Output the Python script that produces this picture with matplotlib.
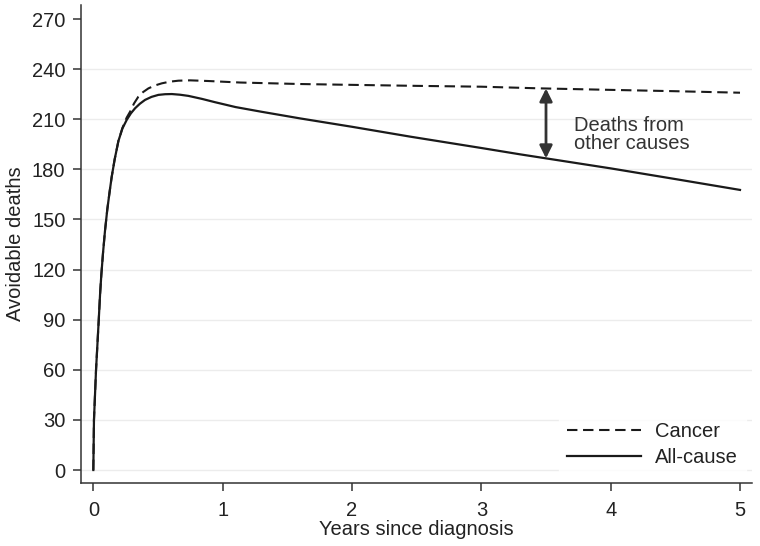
#!/usr/bin/env python3
"""Avoidable deaths by years since diagnosis: cancer vs all-cause."""

import numpy as np
import matplotlib
matplotlib.use("Agg")
import matplotlib.pyplot as plt


# values
allcause_years = [0, 0.005, 0.021, 0.042, 0.052, 0.062, 0.075, 0.09, 0.108, 0.125, 0.142,
                  0.165, 0.194, 0.225, 0.258, 0.29, 0.323, 0.36, 0.4, 0.45, 0.503, 0.555,
                  0.607, 0.67, 0.735, 0.84, 0.942, 1.1, 1.3, 1.6, 2.0, 2.45, 3.0, 3.3, 3.5,
                  4.0, 4.5, 5.0]
allcause_deaths = [0, 30, 60, 90, 105, 117, 130, 143, 156, 166, 175.5,
                   186, 197, 204.5, 209.6, 213.5, 216.6, 219.3, 221.6, 223.4, 224.6, 225.0,
                   225.1, 224.7, 224.0, 222.2, 220.2, 217.3, 214.5, 210.5, 205.5, 199.6, 192.8, 189.0, 186.6,
                   180.6, 174.2, 167.7]

cancer_years = [0, 0.005, 0.021, 0.042, 0.052, 0.062, 0.075, 0.09, 0.108, 0.125, 0.142,
                0.165, 0.194, 0.225, 0.258, 0.284, 0.315, 0.348, 0.385, 0.426, 0.475, 0.529,
                0.59, 0.658, 0.75, 0.89, 1.135, 1.6, 2.0, 2.5, 3.0, 3.455, 4.0, 4.5, 5.0]
cancer_deaths = [0, 30, 60, 90, 105, 117, 130, 143, 156, 166, 175.5,
                 186, 197, 204.8, 211, 214.5, 219.5, 223.5, 226.3, 228.5, 230.2, 231.5,
                 232.5, 233.1, 233.3, 232.9, 232, 231.1, 230.6, 230, 229.5, 228.5, 227.6, 226.8, 225.9]

x_ticks = [0, 1, 2, 3, 4, 5]
y_ticks = [0, 30, 60, 90, 120, 150, 180, 210, 240, 270]
gap_year = 3.5

plt.rcParams["font.family"] = ["Liberation Sans", "DejaVu Sans"]
plt.rcParams["font.size"] = 14.5
INK = "#333333"
LINE = "#1a1a1a"

fig = plt.figure(figsize=(7.6, 5.46), dpi=100)
ax = fig.add_axes([0.1062, 0.1159, 0.989 - 0.1062, 0.9908 - 0.1159])

ax.plot(cancer_years, cancer_deaths, color=LINE, lw=1.5, dashes=(5, 2.7), label="Cancer")
ax.plot(allcause_years, allcause_deaths, color=LINE, lw=1.6, label="All-cause")

# double arrow between the two curves
top = np.interp(gap_year, cancer_years, cancer_deaths)
bottom = np.interp(gap_year, allcause_years, allcause_deaths)
ax.annotate("", xy=(gap_year, top), xytext=(gap_year, bottom),
            arrowprops=dict(arrowstyle="<|-|>", color=INK, lw=2.0,
                            mutation_scale=19, shrinkA=0, shrinkB=0))
ax.text(gap_year + 0.215, (top + bottom) / 2 - 6.5, "Deaths from\nother causes",
        ha="left", va="center", color=INK, linespacing=0.95)

ax.set_xlim(-0.0975, 5.09)
ax.set_ylim(-7.6, 278.4)
ax.set_xticks(x_ticks)
ax.set_yticks(y_ticks)

ax.grid(True, axis="y", color="#ececec", lw=1.0)
ax.yaxis.get_gridlines()[-1].set_visible(False)
ax.set_axisbelow(True)

for side in ["top", "right"]:
    ax.spines[side].set_visible(False)
for side in ["left", "bottom"]:
    ax.spines[side].set_color(INK)
    ax.spines[side].set_linewidth(1.1)
ax.tick_params(axis="both", colors=INK, labelcolor="#222222", length=6, width=1.1)
ax.tick_params(axis="y", pad=5)
ax.tick_params(axis="x", pad=7)

ax.set_xlabel("Years since diagnosis", color="#222222", labelpad=0)
ax.set_ylabel("Avoidable deaths", color="#222222", labelpad=5)

leg = ax.legend(loc="lower right", bbox_to_anchor=(1.006, -0.006), frameon=True,
                fancybox=False, handlelength=3.65, handletextpad=0.7,
                labelspacing=0.38, borderpad=0.4)
leg.get_frame().set_facecolor("white")
leg.get_frame().set_edgecolor("white")
for t in leg.get_texts():
    t.set_color("#222222")

fig.savefig("out.png", dpi=100)
